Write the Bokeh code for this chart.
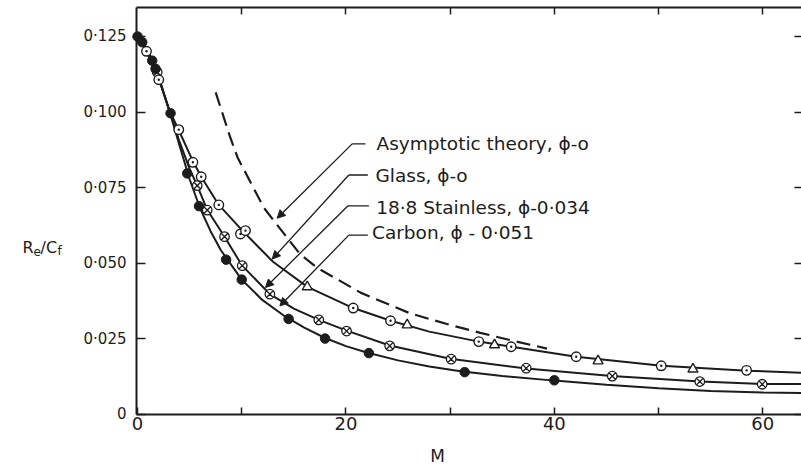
from bokeh.plotting import figure
from bokeh.models import (Range1d, FixedTicker, LinearAxis, Label, Arrow, NormalHead)
from bokeh.embed import file_html
from bokeh.resources import INLINE

INK = "#1c1c1c"
FONT = "DejaVu Sans"

# ---------------- data ----------------
# smooth fitted curves
carbon_curve_x = [0, 1, 2, 3, 4, 5, 6, 7, 8, 10, 12, 14, 16, 18, 20, 22, 25, 28, 31, 35, 40, 45, 50, 55, 60, 63.7]
carbon_curve_y = [0.125, 0.1205, 0.1115, 0.1010, 0.0893, 0.0778, 0.0682, 0.0607, 0.0543, 0.0446, 0.0378, 0.0328,
                  0.0287, 0.0253, 0.0226, 0.0205, 0.0179, 0.0159, 0.0143, 0.0127, 0.0112, 0.0098, 0.0087, 0.0078,
                  0.0073, 0.0071]

stainless_curve_x = [0, 1, 2, 3, 4, 5, 5.73, 6.7, 8.35, 10, 12.7, 15, 17.4, 20, 24.2, 30, 37.3, 45.5, 54, 60, 63.7]
stainless_curve_y = [0.125, 0.1205, 0.1120, 0.1012, 0.0905, 0.0812, 0.0757, 0.0676, 0.0588, 0.0494, 0.0398, 0.0350,
                     0.0313, 0.0278, 0.0228, 0.0184, 0.0152, 0.0127, 0.0109, 0.0101, 0.0101]

glass_curve_x = [0, 0.86, 2, 3, 3.96, 5.31, 6.11, 7.8, 10.2, 13, 16.3, 20.7, 24.3, 28, 32.75, 35.9, 42.1, 50.3, 58.5, 63.7]
glass_curve_y = [0.125, 0.1201, 0.1115, 0.1010, 0.0940, 0.0838, 0.0786, 0.0693, 0.0603, 0.0505, 0.0422, 0.0352,
                 0.0310, 0.0274, 0.0241, 0.0224, 0.0191, 0.0161, 0.0145, 0.0138]

asym_x = [7.5, 8.9, 9.6, 12.1, 13.1, 15.6, 17.3, 21.4, 26.2, 30.0, 32.9, 36.0, 39.3]
asym_y = [0.1065, 0.0916, 0.0850, 0.0685, 0.0640, 0.0530, 0.0484, 0.0403, 0.0334, 0.0296, 0.0270, 0.0244, 0.0218]

# measured points
carbon_x = [0.0, 0.45, 1.41, 1.73, 3.17, 4.77, 5.9, 8.5, 10.0, 14.5, 18.0, 22.2, 31.4, 40.0]
carbon_y = [0.125, 0.1231, 0.1170, 0.1143, 0.0996, 0.0797, 0.0689, 0.0512, 0.0446, 0.0316, 0.0251, 0.0203,
            0.0140, 0.0113]

glass_x = [0.86, 2.04, 3.96, 5.31, 6.11, 7.8, 9.88, 10.36, 20.7, 24.28, 32.75, 35.86, 42.1, 50.26, 58.45]
glass_y = [0.1201, 0.1107, 0.0942, 0.0834, 0.0786, 0.0693, 0.0597, 0.0608, 0.0352, 0.0310, 0.0241, 0.0224,
           0.0191, 0.0161, 0.0146]

glass_tri_x = [16.29, 25.88, 34.26, 44.2, 53.3]
glass_tri_y = [0.0422, 0.0296, 0.0230, 0.0177, 0.0150]

stainless_x = [1.89, 5.73, 6.69, 8.35, 10.05, 12.7, 17.4, 20.06, 24.2, 30.1, 37.3, 45.56, 53.96, 59.95]
stainless_y = [0.1132, 0.0757, 0.0676, 0.0588, 0.0492, 0.0398, 0.0313, 0.0276, 0.0227, 0.0183, 0.0153, 0.0127,
               0.0109, 0.0100]

# axis ticks
x_ticks = [0, 20, 40, 60]
x_minor_ticks = [10, 30, 50]
x_tick_labels = {0: "0", 20: "20", 40: "40", 60: "60"}
frame_x_ticks = [10, 20, 30, 40, 50, 60]
y_ticks = [0, 0.025, 0.05, 0.075, 0.1, 0.125]
y_tick_labels = {0: "0", 0.025: "0·025", 0.05: "0·050", 0.075: "0·075", 0.1: "0·100", 0.125: "0·125"}

# plotted extent of the frame drawn by the axes
X_LO, X_HI = -0.1, 63.72
Y_LO, Y_HI = 0.0, 0.1346

# annotation labels and leaders
ann_text = ["Asymptotic theory, ϕ-o", "Glass, ϕ-o", "18·8 Stainless, ϕ-0·034", "Carbon, ϕ - 0·051"]
ann_tx = [22.94, 22.84, 22.90, 22.50]
ann_ty = [0.0896, 0.0790, 0.0686, 0.0601]
ann_hx = [21.88, 22.10, 22.20, 22.10]
ann_bx = [20.60, 20.28, 20.20, 20.28]
ann_by = [0.0895, 0.0792, 0.0690, 0.0593]
ann_ex = [13.40, 12.93, 12.28, 13.66]
ann_ey = [0.0649, 0.0514, 0.0420, 0.0359]

# ---------------- figure ----------------
p = figure(width=801, height=468, output_backend="svg", toolbar_location=None,
           x_range=Range1d(-13.15, 63.72), y_range=Range1d(-0.01786, 0.1369),
           min_border_left=0, min_border_right=0, min_border_top=0, min_border_bottom=0,
           background_fill_color="white", border_fill_color="white")
p.outline_line_color = None
p.grid.visible = False

# bottom axis (placed at y = 0)
xa = p.xaxis[0]
xa.fixed_location = Y_LO
xa.bounds = (X_LO, X_HI)
xa.ticker = FixedTicker(ticks=x_ticks, minor_ticks=x_minor_ticks)
xa.major_label_overrides = x_tick_labels
xa.major_tick_in = 7
xa.major_tick_out = 0
xa.minor_tick_in = 7
xa.minor_tick_out = 0
xa.minor_tick_line_color = INK
xa.minor_tick_line_width = 1.5
xa.axis_line_width = 2
xa.axis_line_color = INK
xa.major_tick_line_color = INK
xa.major_tick_line_width = 1.5
xa.major_label_text_font = FONT
xa.major_label_text_font_size = "18px"
xa.major_label_text_color = INK
xa.major_label_standoff = 3

# left axis (placed at x = 0)
ya = p.yaxis[0]
ya.fixed_location = X_LO
ya.bounds = (Y_LO, Y_HI)
ya.ticker = FixedTicker(ticks=y_ticks)
ya.major_label_overrides = y_tick_labels
ya.major_tick_in = 9
ya.major_tick_out = 0
ya.minor_tick_line_color = None
ya.axis_line_width = 2
ya.axis_line_color = INK
ya.major_tick_line_color = INK
ya.major_tick_line_width = 1.5
ya.major_label_text_font = FONT
ya.major_label_text_font_size = "15px"
ya.major_label_text_color = INK
ya.major_label_standoff = 10

# top frame line with ticks (no labels)
ta = LinearAxis(fixed_location=Y_HI, bounds=(X_LO, X_HI),
                ticker=FixedTicker(ticks=[], minor_ticks=frame_x_ticks),
                major_tick_in=0, major_tick_out=0, minor_tick_in=7, minor_tick_out=0,
                axis_line_width=2, axis_line_color=INK,
                minor_tick_line_color=INK, minor_tick_line_width=1.5, major_label_standoff=0)
p.add_layout(ta, "above")

# right frame ticks (its line falls just outside the picture)
ra = LinearAxis(fixed_location=X_HI, bounds=(Y_LO, Y_HI),
                ticker=FixedTicker(ticks=[], minor_ticks=y_ticks),
                major_tick_in=0, major_tick_out=0, minor_tick_in=7, minor_tick_out=0,
                axis_line_color=None, minor_tick_line_color=INK, minor_tick_line_width=1.5,
                major_label_standoff=0)
p.add_layout(ra, "right")

# curves
p.line(asym_x, asym_y, line_color=INK, line_width=2.2, line_dash="14 7")
p.line(glass_curve_x, glass_curve_y, line_color=INK, line_width=2)
p.line(stainless_curve_x, stainless_curve_y, line_color=INK, line_width=2)
p.line(carbon_curve_x, carbon_curve_y, line_color=INK, line_width=2)

# markers
p.scatter(glass_tri_x, glass_tri_y, marker="triangle", size=10, fill_color="white", line_color=INK, line_width=1.4)
p.scatter(stainless_x, stainless_y, marker="circle_x", size=9.5, fill_color="white", line_color=INK, line_width=1.3)
p.scatter(glass_x, glass_y, marker="circle_dot", size=9.5, fill_color="white", line_color=INK, line_width=1.4)
p.scatter(carbon_x, carbon_y, marker="circle", size=9.5, fill_color=INK, line_color=INK)

# annotation leaders
for i in range(len(ann_text)):
    p.line([ann_hx[i], ann_bx[i]], [ann_by[i], ann_by[i]], line_color=INK, line_width=1.3)
    p.add_layout(Arrow(end=NormalHead(size=8, fill_color=INK, line_color=INK, line_width=1),
                       x_start=ann_bx[i], y_start=ann_by[i], x_end=ann_ex[i], y_end=ann_ey[i],
                       line_color=INK, line_width=1.3))
    p.add_layout(Label(x=ann_tx[i], y=ann_ty[i], text=ann_text[i], text_font=FONT,
                       text_font_size="18.5px", text_color=INK, text_baseline="middle", text_align="left"))

# axis titles
p.add_layout(Label(x=28.79, y=-0.0138, text="M", text_font=FONT,
                   text_font_size="17px", text_color=INK, text_baseline="middle", text_align="center"))
ylab = [("R", -11.04, 0.0552, "16px"), ("e", -9.98, 0.0539, "12px"),
        ("/C", -9.31, 0.0552, "16px"), ("f", -7.68, 0.0539, "12px")]
for t, lx, ly, fs in ylab:
    p.add_layout(Label(x=lx, y=ly, text=t, text_font=FONT, text_font_size=fs, text_color=INK,
                       text_baseline="alphabetic", text_align="left"))

open("out.html", "w").write(file_html(p, INLINE))
